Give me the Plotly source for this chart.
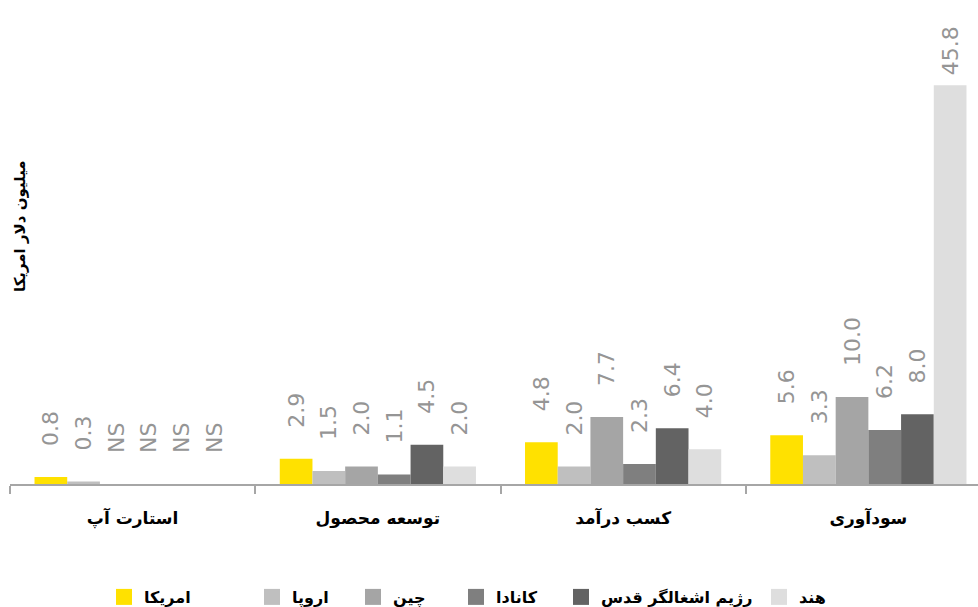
import plotly.graph_objects as go

# Funding stages (left to right)
stages = ["استارت آپ", "توسعه محصول", "کسب درآمد", "سودآوری"]

# Median funding per region, million USD (None = not significant)
usa = [0.8, 2.9, 4.8, 5.6]
europe = [0.3, 1.5, 2.0, 3.3]
china = [None, 2.0, 7.7, 10.0]
canada = [None, 1.1, 2.3, 6.2]
israel = [None, 4.5, 6.4, 8.0]
india = [None, 2.0, 4.0, 45.8]

series_names = ["امریکا", "اروپا", "چین", "کانادا", "رژیم اشغالگر قدس", "هند"]
series_values = [usa, europe, china, canada, israel, india]
series_colors = ["#FFE100", "#BFBFBF", "#A5A5A5", "#7F7F7F", "#636363", "#DEDEDE"]

y_title = "میلیون دلار امریکا"
missing_label = "NS"

W, H = 978, 607
M_L, M_R, M_T, M_B = 10, 0, 0, 123
Y_MAX = 55.6
NBSP = "\u00a0"

persian_font = "DejaVu Sans"
label_font = dict(family="DejaVu Sans", size=22, color="#959595")


def bar_label(v):
    txt = missing_label if v is None else f"{v:.1f}"
    # lift labels off the bar top; very tall bars keep them close
    pad = 1 if (v is not None and v > 0.75 * Y_MAX) else 4
    return NBSP * pad + txt


fig = go.Figure()

for name, vals, color in zip(series_names, series_values, series_colors):
    fig.add_trace(go.Bar(
        x=stages,
        y=[0 if v is None else v for v in vals],
        name=name,
        marker=dict(color=color, line=dict(width=0)),
        text=[bar_label(v) for v in vals],
        textposition="outside",
        textangle=-90,
        textfont=label_font,
        constraintext="none",
        cliponaxis=False,
        showlegend=False,
        hoverinfo="skip",
    ))

# legend swatches, each placed in its own legend box
legend_left_px = [116, 264, 365, 468, 573, 771]
plot_w = W - M_L - M_R
legend_layouts = {}
for i, (name, color) in enumerate(zip(series_names, series_colors)):
    key = "legend" if i == 0 else f"legend{i + 1}"
    fig.add_trace(go.Scatter(
        x=[None], y=[None], mode="markers", name=name,
        marker=dict(symbol="square", size=16, color=color),
        legend=key, showlegend=True, hoverinfo="skip",
    ))
    legend_layouts[key] = dict(
        x=(legend_left_px[i] - 12 - M_L) / plot_w,
        xanchor="left",
        yref="container",
        y=(H - 597) / H,
        yanchor="middle",
        orientation="h",
        bgcolor="rgba(0,0,0,0)",
        borderwidth=0,
        itemsizing="trace",
        font=dict(family=persian_font, size=16, color="#000000", weight="bold"),
    )

fig.update_layout(
    width=W, height=H,
    margin=dict(l=M_L, r=M_R, t=M_T, b=M_B, autoexpand=False),
    paper_bgcolor="white",
    plot_bgcolor="white",
    barmode="group",
    bargap=0.2,
    bargroupgap=0,
    xaxis=dict(
        type="category",
        range=[-0.5, 3.447],
        automargin=False,
        showgrid=False,
        showline=True, linecolor="#A6A6A6", linewidth=2,
        ticks="outside", tickson="boundaries", ticklen=8, tickwidth=2, tickcolor="#A6A6A6",
        tickfont=dict(family=persian_font, size=17, color="#000000", weight="bold"),
        ticklabelstandoff=18,
        fixedrange=True,
    ),
    yaxis=dict(visible=False, range=[0, Y_MAX], fixedrange=True),
    annotations=[dict(
        text=y_title, textangle=-90,
        xref="paper", yref="paper",
        x=(20 - M_L) / plot_w, y=(H - M_B - 226) / (H - M_T - M_B),
        xanchor="center", yanchor="middle", showarrow=False,
        font=dict(family=persian_font, size=15, color="#000000", weight="bold"),
    )],
    **legend_layouts,
)

fig.write_html("out.html")
